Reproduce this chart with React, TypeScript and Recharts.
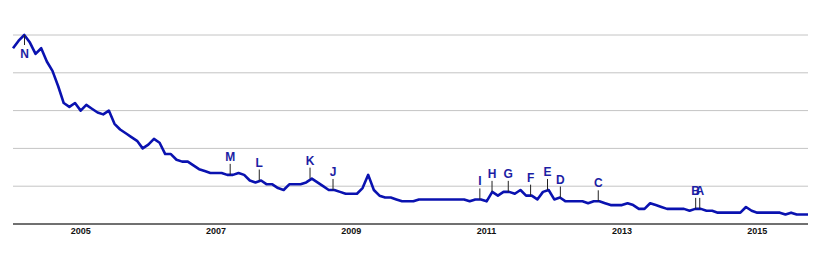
import React from "react";
import { LineChart, Line, XAxis, YAxis, CartesianGrid, ReferenceDot } from "recharts";

// Monthly index values starting January 2004
const startYear = 2004;
const values: number[] = [
  93, 97, 100, 96, 90, 93, 86, 81, 73, 64,
  62, 64, 60, 63, 61, 59, 58, 60, 53, 50,
  48, 46, 44, 40, 42, 45, 43, 37, 37, 34,
  33, 33, 31, 29, 28, 27, 27, 27, 26, 26,
  27, 26, 23, 22, 23, 21, 21, 19, 18, 21,
  21, 21, 22, 24, 22, 20, 18, 18, 17, 16,
  16, 16, 19, 26, 18, 15, 14, 14, 13, 12,
  12, 12, 13, 13, 13, 13, 13, 13, 13, 13,
  13, 12, 13, 13, 12, 17, 15, 17, 17, 16,
  18, 15, 15, 13, 17, 18, 13, 14, 12, 12,
  12, 12, 11, 12, 12, 11, 10, 10, 10, 11,
  10, 8, 8, 11, 10, 9, 8, 8, 8, 8,
  7, 8, 8, 7, 7, 6, 6, 6, 6, 6,
  9, 7, 6, 6, 6, 6, 6, 5, 6, 5,
  5, 5,
];

const yearTicks = [2005, 2007, 2009, 2011, 2013, 2015];
const gridValues = [0, 20, 40, 60, 80, 100];

// News flags: letter, date (fractional year), value on the line
const flagLetters = ["N", "M", "L", "K", "J", "I", "H", "G", "F", "E", "D", "C", "B", "A"];
const flagDates = [2004.17, 2007.21, 2007.64, 2008.39, 2008.73, 2010.9, 2011.08, 2011.32, 2011.65, 2011.9, 2012.09, 2012.65, 2014.09, 2014.15];
const flagValues = [100, 26, 23, 24, 18, 13, 17, 17, 15, 18, 14, 12, 8, 8];

const data = values.map((v, i) => ({ t: startYear + i / 12, v }));

const FONT = "Arial, 'Liberation Sans', sans-serif";
const LINE = "#0a12b0";
const FLAGTEXT = "#1c1ea4";

const makeFlag = (letter: string, down: boolean) => (props: any) => {
  const { cx, cy } = props;
  if (cx == null || cy == null) return <g />;
  if (down) {
    return (
      <g>
        <line x1={cx} y1={cy} x2={cx} y2={cy + 10} stroke="#222" strokeWidth={1} />
        <text x={cx} y={cy + 23} textAnchor="middle" fontFamily={FONT} fontWeight="bold" fontSize={12} fill={FLAGTEXT}>
          {letter}
        </text>
      </g>
    );
  }
  return (
    <g>
      <line x1={cx} y1={cy} x2={cx} y2={cy - 11} stroke="#222" strokeWidth={1} />
      <text x={cx} y={cy - 14} textAnchor="middle" fontFamily={FONT} fontWeight="bold" fontSize={12} fill={FLAGTEXT}>
        {letter}
      </text>
    </g>
  );
};

const YearTick = (props: any) => {
  const { x, y, payload } = props;
  return (
    <text x={x} y={y + 10} textAnchor="middle" fontFamily={FONT} fontWeight="bold" fontSize={9} fill="#111">
      {payload.value}
    </text>
  );
};

export default function App() {
  return (
    <div style={{ position: "absolute", left: 0, top: 0, width: 830, height: 256, background: "#fff" }}>
      <LineChart width={830} height={256} data={data} margin={{ top: 35, right: 22, bottom: 0, left: 13 }}>
        <CartesianGrid vertical={false} stroke="#c4c4c4" strokeWidth={1} />
        <XAxis
          dataKey="t"
          type="number"
          domain={[2004, 2015.75]}
          ticks={yearTicks}
          interval={0}
          height={32}
          tickLine={false}
          tickSize={0}
          tickMargin={0}
          axisLine={{ stroke: "#000", strokeWidth: 1 }}
          tick={<YearTick />}
        />
        <YAxis hide domain={[0, 100]} ticks={gridValues} />
        <Line
          type="linear"
          dataKey="v"
          stroke={LINE}
          strokeWidth={2.6}
          dot={false}
          activeDot={false}
          isAnimationActive={false}
          strokeLinejoin="round"
        />
        {flagLetters.map((l, i) => (
          <ReferenceDot
            key={l}
            x={flagDates[i]}
            y={flagValues[i]}
            r={0}
            ifOverflow="visible"
            shape={makeFlag(l, i === 0)}
          />
        ))}
      </LineChart>
    </div>
  );
}
